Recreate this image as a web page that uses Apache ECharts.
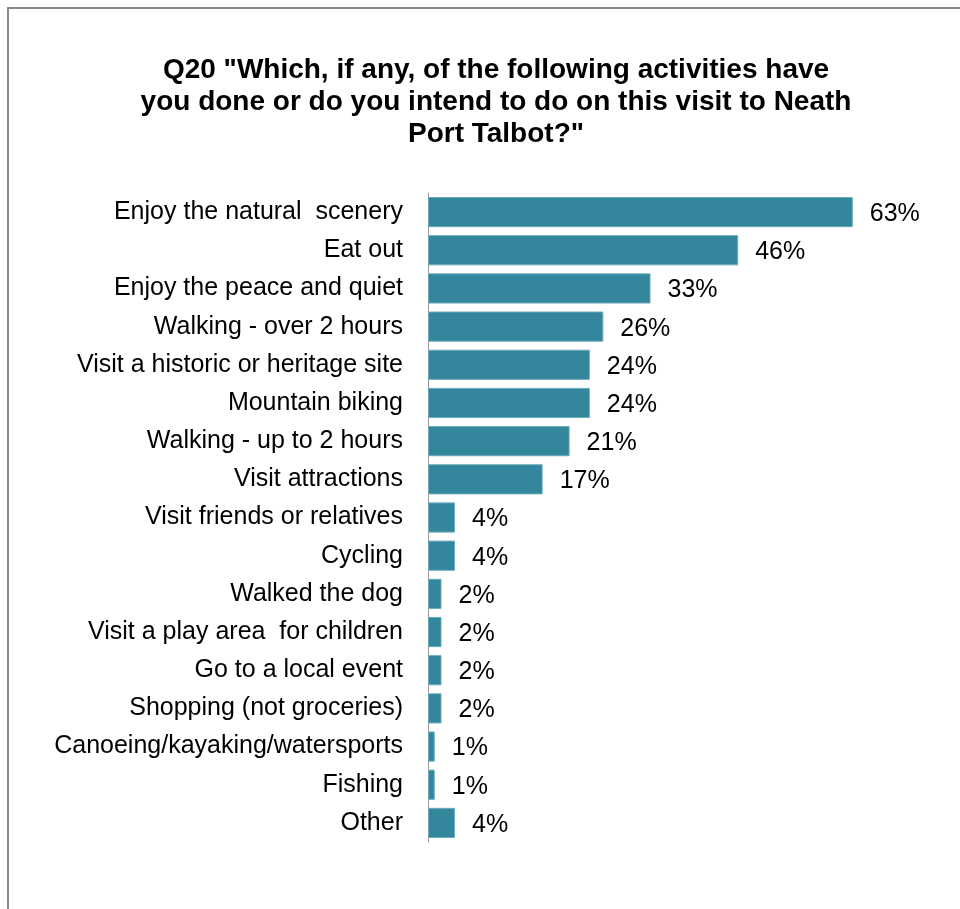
<!DOCTYPE html>
<html>
<head>
<meta charset="utf-8">
<script src="https://cdn.jsdelivr.net/npm/echarts@6/dist/echarts.min.js"></script>
<style>html,body{margin:0;padding:0;background:#fff}#c{width:960px;height:909px}</style>
</head>
<body>
<div id="c"></div>
<script>
const titleText = 'Q20 "Which, if any, of the following activities have\nyou done or do you intend to do on this visit to Neath\nPort Talbot?"';
const categories = [
  'Enjoy the natural  scenery',
  'Eat out',
  'Enjoy the peace and quiet',
  'Walking - over 2 hours',
  'Visit a historic or heritage site',
  'Mountain biking',
  'Walking - up to 2 hours',
  'Visit attractions',
  'Visit friends or relatives',
  'Cycling',
  'Walked the dog',
  'Visit a play area  for children',
  'Go to a local event',
  'Shopping (not groceries)',
  'Canoeing/kayaking/watersports',
  'Fishing',
  'Other'
];
const values = [63, 46, 33, 26, 24, 24, 21, 17, 4, 4, 2, 2, 2, 2, 1, 1, 4];

const chart = echarts.init(document.getElementById('c'));
chart.setOption({
  backgroundColor: '#ffffff',
  animation: false,
  title: {
    text: titleText,
    left: 491,
    top: 49,
    textAlign: 'center',
    textStyle: {
      fontFamily: 'Liberation Sans, Arial, sans-serif',
      fontSize: 28,
      fontWeight: 'bold',
      color: '#000',
      lineHeight: 32,
      align: 'center'
    }
  },
  graphic: [{
    type: 'rect',
    shape: { x: 8, y: 8, width: 1200, height: 1200 },
    style: { fill: 'none', stroke: '#8a8a8a', lineWidth: 2 },
    silent: true
  }],
  grid: { left: 428, top: 193, width: 472, height: 649, containLabel: false },
  xAxis: {
    type: 'value',
    min: 0,
    max: 70,
    show: false
  },
  yAxis: {
    type: 'category',
    data: categories,
    inverse: true,
    axisLine: { show: true, lineStyle: { color: '#999999', width: 1 } },
    axisTick: { show: false },
    axisLabel: {
      margin: 25,
      fontFamily: 'Liberation Sans, Arial, sans-serif',
      fontSize: 25,
      color: '#000'
    }
  },
  series: [{
    type: 'bar',
    data: values,
    barCategoryGap: '21%',
    itemStyle: { color: '#33869c', borderColor: '#6aaabb', borderWidth: 1 },
    label: {
      show: true,
      position: 'right',
      distance: 17,
      offset: [0, 2],
      formatter: '{c}%',
      fontFamily: 'Liberation Sans, Arial, sans-serif',
      fontSize: 25,
      color: '#000'
    }
  }]
});
</script>
</body>
</html>
